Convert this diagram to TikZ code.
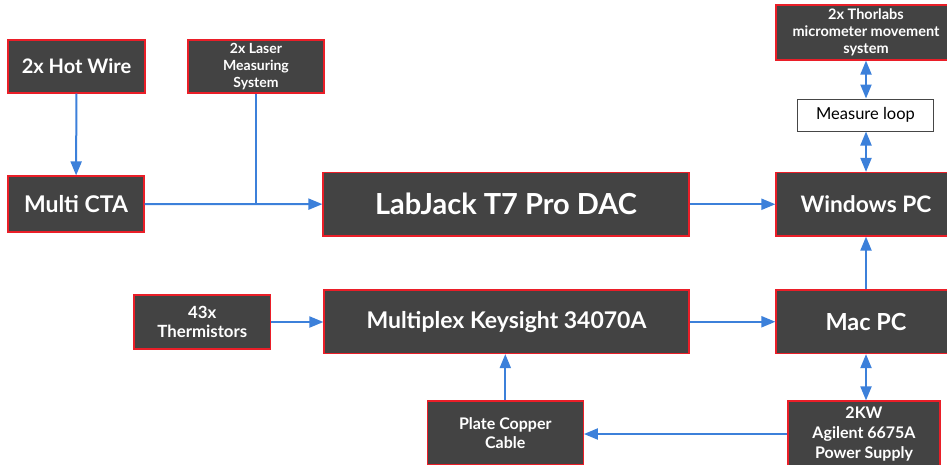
\documentclass[tikz,border=0pt]{standalone}
\usepackage{fontspec}
\setmainfont{Lato}
\usepackage{xcolor}
\definecolor{boxgray}{RGB}{67,67,67}
\definecolor{boxred}{RGB}{234,30,40}
\definecolor{wireblue}{RGB}{60,128,218}
\definecolor{loopgray}{RGB}{70,70,70}
\usepackage{tikz}
\usetikzlibrary{positioning, arrows.meta, calc}
\tikzset{
  unit/.style  = {rectangle, draw=boxred, line width=1.2pt, fill=boxgray, text=white, align=center, inner sep=0pt},
  loopbox/.style = {rectangle, draw=loopgray, line width=1pt, fill=white, text=black, align=center, inner sep=0pt},
  conn/.style  = {-{Triangle[length=14pt, width=11pt]}, line width=2pt, draw=wireblue},
  both/.style  = {{Triangle[length=14pt, width=11pt]}-{Triangle[length=14pt, width=11pt]}, line width=2pt, draw=wireblue},
  wire/.style  = {line width=2pt, draw=wireblue},
}

\begin{document}
\begin{tikzpicture}[x=1pt, y=-1pt]
    \useasboundingbox (0,0) rectangle (947,464);
    % ── Sensors (left) ───────────────────────────────────────────
    \node[unit, minimum width=137pt, minimum height=53pt, font=\fontsize{20}{24}\selectfont\bfseries]
      (hotwire) at (76.5, 66.5) {2x Hot Wire};
    \node[unit, minimum width=136pt, minimum height=53pt, font=\fontsize{14}{17}\selectfont\bfseries]
      (laser) at (256, 66.5) {2x Laser\\Measuring\\System};
    \node[unit, minimum width=136pt, minimum height=56pt, font=\fontsize{23}{27}\selectfont\bfseries]
      (cta) at (76, 204) {Multi CTA};
    \node[unit, minimum width=136.6pt, minimum height=54pt, font=\fontsize{16.8}{19}\selectfont\bfseries]
      (therm) at (202.3, 322) {43x\\Thermistors};

    % ── Acquisition (middle) ─────────────────────────────────────
    \node[unit, minimum width=366pt, minimum height=63.5pt, font=\fontsize{29}{34}\selectfont\bfseries]
      (labjack) at (506, 204.25) {LabJack T7 Pro DAC};
    \node[unit, minimum width=365pt, minimum height=63.5pt, font=\fontsize{23}{27}\selectfont\bfseries]
      (multiplex) at (506.5, 321.75) {Multiplex Keysight 34070A};
    \node[unit, minimum width=156pt, minimum height=64pt, font=\fontsize{16}{19}\selectfont\bfseries]
      (plate) at (505.3, 433) {Plate Copper\\Cable};

    % ── Computers and supplies (right) ───────────────────────────
    \node[unit, minimum width=180pt, minimum height=55pt, font=\fontsize{14.5}{17}\selectfont\bfseries]
      (thorlabs) at (866, 32.5) {2x Thorlabs\\micrometer movement\\system};
    \node[loopbox, minimum width=135.6pt, minimum height=32pt, font=\fontsize{16.5}{19}\selectfont]
      (measure) at (865.5, 115) {Measure loop};
    \node[unit, minimum width=180pt, minimum height=63.5pt, font=\fontsize{22.7}{28}\selectfont\bfseries]
      (windows) at (866, 204.25) {Windows PC};
    \node[unit, minimum width=180pt, minimum height=63.5pt, font=\fontsize{23.5}{28}\selectfont\bfseries]
      (mac) at (866, 321.75) {Mac PC};
    \node[unit, minimum width=152pt, minimum height=66pt, font=\fontsize{16}{20}\selectfont\bfseries]
      (power) at (864, 434) {2KW\\Agilent 6675A\\Power Supply};

    % ── Edges ───────────────────────────────────────────────────
    \draw[conn] (hotwire) -- (cta);
    \coordinate (join) at (laser.south |- cta.east);
    \draw[wire] (laser.south) -- (join);
    \draw[conn] (cta) -- (labjack);
    \draw[conn] (labjack) -- (windows);
    \draw[both] (thorlabs) -- (measure.north -| thorlabs.south);
    \draw[both] (measure.south -| windows.north) -- (windows);
    \draw[conn] (mac) -- (windows);
    \draw[conn] (therm) -- (therm -| multiplex.west);
    \draw[conn] (multiplex) -- (mac);
    \draw[both] (mac.south) -- (mac.south |- power.north);
    \draw[conn] (power.west) -- (power.west -| plate.east);
    \draw[conn] (plate.north) -- (plate.north |- multiplex.south);
  \end{tikzpicture}
\end{document}
